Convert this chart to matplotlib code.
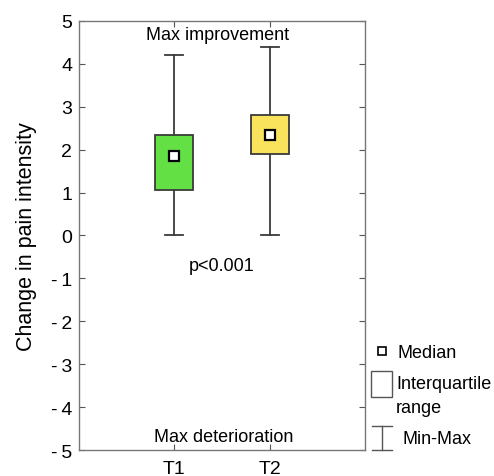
import matplotlib
matplotlib.use("Agg")
import matplotlib.pyplot as plt
from matplotlib.patches import Rectangle
from matplotlib.lines import Line2D

plt.rcParams['font.family'] = ['Liberation Sans', 'DejaVu Sans']

categories = ["T1", "T2"]
mins = [0.0, 0.0]
q1 = [1.05, 1.9]
medians = [1.85, 2.35]
q3 = [2.35, 2.8]
maxs = [4.2, 4.4]
colors = ["#62e044", "#f9e35c"]
yticks = [5, 4, 3, 2, 1, 0, -1, -2, -3, -4, -5]

fig = plt.figure(figsize=(4.94, 4.77), dpi=100)
ax = fig.add_axes([0.160, 0.0545, 0.579, 0.8995])
ax.set_xlim(0, 3)
ax.set_ylim(-5, 5)

bw = 0.4
cw = 0.19
lc = "#3a3a3a"
for i, name in enumerate(categories):
    x = i + 1
    ax.plot([x, x], [mins[i], q1[i]], color=lc, lw=1.3, zorder=2)
    ax.plot([x, x], [q3[i], maxs[i]], color=lc, lw=1.3, zorder=2)
    ax.plot([x - cw / 2, x + cw / 2], [mins[i], mins[i]], color=lc, lw=1.3, zorder=2)
    ax.plot([x - cw / 2, x + cw / 2], [maxs[i], maxs[i]], color=lc, lw=1.3, zorder=2)
    ax.add_patch(Rectangle((x - bw / 2, q1[i]), bw, q3[i] - q1[i],
                           facecolor=colors[i], edgecolor=lc, lw=1.3, zorder=3))
    ax.plot([x], [medians[i]], marker='s', ms=7.5, mfc='white', mec='black', mew=1.6, zorder=4)

ax.set_xticks([1, 2])
ax.set_xticklabels(categories, fontsize=14)
ax.set_yticks(yticks)
ax.set_yticklabels([str(t) if t >= 0 else "-\u2009" + str(-t) for t in yticks], fontsize=14)
ax.tick_params(direction='in', top=True, right=True, length=4, color='#555555', width=0.8)
ax.tick_params(axis='x', pad=7)
ax.tick_params(axis='y', pad=5)
for s in ax.spines.values():
    s.set_color('#777777')
    s.set_linewidth(1.0)
ax.set_ylabel("Change in pain intensity", fontsize=15.5)
ax.yaxis.set_label_coords(-0.147, 0.5)

ax.text(1.45, 4.69, "Max improvement", ha='center', va='center', fontsize=13)
ax.text(1.52, -4.69, "Max deterioration", ha='center', va='center', fontsize=13)
ax.text(1.5, -0.7, "p<0.001", ha='center', va='center', fontsize=13)

# legend outside the axes (figure coordinates)
H = 477.0
W = 494.0
def fx(px):
    return px / W
def fy(py):
    return 1 - py / H

fig.add_artist(Line2D([fx(382)], [fy(352)], marker='s', ms=6, mfc='white', mec='black', mew=1.2))
fig.text(fx(397), fy(354), "Median", fontsize=13, va='center', ha='left')
fig.add_artist(Rectangle((fx(371), fy(398)), fx(21), (398 - 372) / H, transform=fig.transFigure,
                         facecolor='white', edgecolor='#555555', lw=1.0))
fig.text(fx(396), fy(385), "Interquartile", fontsize=13, va='center', ha='left')
fig.text(fx(396), fy(409), "range", fontsize=13, va='center', ha='left')
fig.add_artist(Line2D([fx(382), fx(382)], [fy(427), fy(451)], color='#555555', lw=1.0))
fig.add_artist(Line2D([fx(372), fx(392)], [fy(427), fy(427)], color='#555555', lw=1.0))
fig.add_artist(Line2D([fx(372), fx(392)], [fy(451), fy(451)], color='#555555', lw=1.0))
fig.text(fx(402), fy(440), "Min-Max", fontsize=13, va='center', ha='left')

fig.savefig("out.png", dpi=100)
